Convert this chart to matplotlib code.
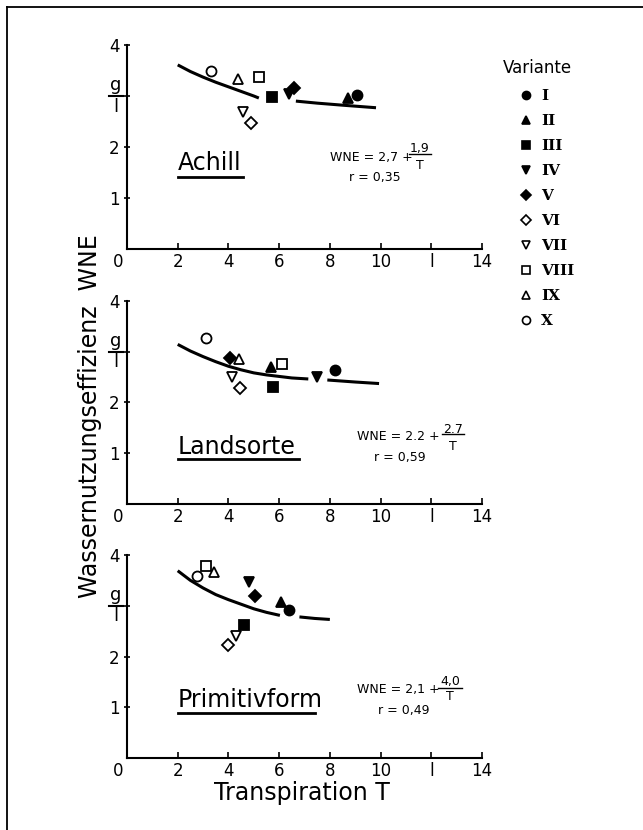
import matplotlib
matplotlib.use("Agg")
import matplotlib.pyplot as plt
from matplotlib.lines import Line2D
from matplotlib.transforms import ScaledTranslation

plt.rcParams['font.family'] = ['DejaVu Sans']

# ---------------- data ----------------
variants = ['I', 'II', 'III', 'IV', 'V', 'VI', 'VII', 'VIII', 'IX', 'X']
var_markers = ['o', '^', 's', 'v', 'D', 'D', 'v', 's', '^', 'o']
var_filled = [True, True, True, True, True, False, False, False, False, False]

panel_names = ['Achill', 'Landsorte', 'Primitivform']

# transpiration T and WNE per variant (order I..X)
achill_T = [9.06, 8.73, 5.71, 6.40, 6.59, 4.88, 4.56, 5.19, 4.39, 3.30]
achill_W = [3.02, 2.97, 2.99, 3.04, 3.16, 2.48, 2.69, 3.37, 3.33, 3.49]
land_T = [8.20, 5.68, 5.77, 7.48, 4.06, 4.46, 4.15, 6.11, 4.42, 3.10]
land_W = [2.64, 2.70, 2.30, 2.49, 2.88, 2.28, 2.49, 2.75, 2.86, 3.27]
prim_T = [6.40, 6.07, 4.61, 4.80, 5.06, 3.98, 4.29, 3.12, 3.44, 2.75]
prim_W = [2.91, 3.08, 2.62, 3.46, 3.19, 2.22, 2.41, 3.79, 3.66, 3.59]

# fitted curves, each drawn in two pieces
achill_curve1_T = [2.0, 2.5, 3.0, 3.5, 4.0, 4.5, 5.0, 5.2]
achill_curve1_W = [3.61, 3.48, 3.37, 3.27, 3.18, 3.09, 3.00, 2.96]
achill_curve2_T = [6.66, 7.5, 8.5, 9.82]
achill_curve2_W = [2.90, 2.86, 2.82, 2.77]
land_curve1_T = [2.0, 2.5, 3.0, 3.5, 4.0, 4.5, 5.0, 5.5, 6.0, 6.5, 7.15]
land_curve1_W = [3.14, 3.01, 2.90, 2.80, 2.71, 2.64, 2.58, 2.54, 2.51, 2.48, 2.46]
land_curve2_T = [7.9, 9.0, 9.94]
land_curve2_W = [2.44, 2.40, 2.37]
prim_curve1_T = [2.0, 2.5, 3.0, 3.5, 4.0, 4.5, 5.0, 5.5, 6.03]
prim_curve1_W = [3.69, 3.50, 3.35, 3.22, 3.12, 3.03, 2.94, 2.87, 2.81]
prim_curve2_T = [6.80, 7.4, 8.0]
prim_curve2_W = [2.78, 2.75, 2.73]

eq_const = ['2,7', '2.2', '2,1']
eq_num = ['1,9', '2.7', '4,0']
r_values = ['0,35', '0,59', '0,49']

xtick_values = [0, 2, 4, 6, 8, 10, 12, 14]
xtick_labels = ['0', '2', '4', '6', '8', '10', 'l', '14']
ytick_values = [1, 2, 3, 4]
ytick_labels = ['1', '2', '', '4']

panel_T = [achill_T, land_T, prim_T]
panel_W = [achill_W, land_W, prim_W]
panel_curves = [
    [(achill_curve1_T, achill_curve1_W), (achill_curve2_T, achill_curve2_W)],
    [(land_curve1_T, land_curve1_W), (land_curve2_T, land_curve2_W)],
    [(prim_curve1_T, prim_curve1_W), (prim_curve2_T, prim_curve2_W)],
]

# ---------------- layout ----------------
W_PX, H_PX = 643, 830
fig = plt.figure(figsize=(W_PX / 100, H_PX / 100), dpi=100)

ax_left_px, ax_right_px = 127, 482
panel_px = [(45, 249), (300.7, 504), (555, 758)]  # (top y, bottom y) in pixels

# text positions per panel (data coords)
name_pos = [(2.0, 1.69), (2.0, 1.12), (2.0, 1.14)]
name_ul = [(2.0, 4.57, 1.41), (2.0, 6.78, 0.89), (2.0, 7.41, 0.89)]
eq_pos = [(8.0, 1.80), (9.07, 1.32), (9.07, 1.34)]
frac_pos = [(11.55, 1.98, 11.12, 11.98, 1.86, 1.63),
            (12.86, 1.46, 12.42, 13.30, 1.38, 1.14),
            (12.74, 1.50, 12.27, 13.20, 1.38, 1.22)]
r_pos = [(9.78, 1.41), (10.77, 0.91), (10.92, 0.93)]

for p in range(3):
    top, bot = panel_px[p]
    ax = fig.add_axes([ax_left_px / W_PX, 1 - bot / H_PX,
                       (ax_right_px - ax_left_px) / W_PX, (bot - top) / H_PX])
    ax.set_xlim(0, 14)
    ax.set_ylim(0, 4)
    for s in ['top', 'right']:
        ax.spines[s].set_visible(False)
    for s in ['left', 'bottom']:
        ax.spines[s].set_linewidth(1.5)
    ax.set_xticks(xtick_values)
    ax.set_xticklabels(xtick_labels, fontsize=12)
    ax.set_yticks(ytick_values)
    ax.set_yticklabels(ytick_labels, fontsize=12)
    ax.tick_params(axis='x', direction='in', length=4, width=1.2, pad=3)
    ax.tick_params(axis='y', direction='inout', length=5, width=1.2, pad=3)
    lab0 = ax.get_xticklabels()[0]
    lab0.set_transform(lab0.get_transform() + ScaledTranslation(-0.09, 0, fig.dpi_scale_trans))
    ax.patch.set_alpha(0)

    # g / l unit at y = 3
    ax.plot([-0.71, -0.16], [3, 3], color='black', lw=1.5, clip_on=False)
    ax.text(-0.43, 3.03, 'g', ha='center', va='bottom', fontsize=13, clip_on=False)
    ax.text(-0.43, 2.97, 'l', ha='center', va='top', fontsize=13, clip_on=False)

    # curves
    for cT, cW in panel_curves[p]:
        ax.plot(cT, cW, color='black', lw=2.2, solid_capstyle='butt', zorder=2)

    # points
    for i in range(10):
        m = var_markers[i]
        ms = 6.6 if m == 'D' else 7.2
        ax.plot(panel_T[p][i], panel_W[p][i], marker=m, ls='none', ms=ms,
                mfc='black' if var_filled[i] else 'white', mec='black',
                mew=1.3, clip_on=False, zorder=3)

    # panel name, underlined
    nx, ny = name_pos[p]
    ax.text(nx, ny, panel_names[p], fontsize=17, ha='left', va='center')
    ux0, ux1, uy = name_ul[p]
    ax.plot([ux0, ux1], [uy, uy], color='black', lw=2.0)

    # equation
    ex, ey = eq_pos[p]
    ax.text(ex, ey, 'WNE = ' + eq_const[p] + ' +', fontsize=9, ha='left', va='center')
    fx, fy, lx0, lx1, ly, ty = frac_pos[p]
    ax.text(fx, fy, eq_num[p], fontsize=9, ha='center', va='center')
    ax.plot([lx0, lx1], [ly, ly], color='black', lw=1.0)
    ax.text(fx, ty, 'T', fontsize=9, ha='center', va='center')
    rx, ry = r_pos[p]
    ax.text(rx, ry, 'r = ' + r_values[p], fontsize=9, ha='center', va='center')

# axis labels
fig.text(302 / W_PX, 1 - 793 / H_PX, 'Transpiration T', fontsize=17,
         ha='center', va='center')
fig.text(90 / W_PX, 1 - 416 / H_PX, 'Wassernutzungseffizienz  WNE', fontsize=17,
         ha='center', va='center', rotation=90)

# legend
handles = [Line2D([], [], marker=var_markers[i], ls='none',
                  ms=(5.2 if var_markers[i] == 'D' else 5.8),
                  mfc='black' if var_filled[i] else 'white', mec='black', mew=1.2)
           for i in range(10)]
fig.text(537 / W_PX, 1 - 68 / H_PX, 'Variante', fontsize=12, ha='center', va='center')
fig.legend(handles, variants, loc='upper left',
           bbox_to_anchor=(518 / W_PX, 1 - 89 / H_PX),
           frameon=False, handlelength=1.0, handletextpad=0.5,
           labelspacing=0.72, borderpad=0, borderaxespad=0,
           prop={'family': 'DejaVu Serif', 'weight': 'bold', 'size': 11})

# page frame (left and top border)
fig.add_artist(Line2D([7 / W_PX, 7 / W_PX], [0, 1 - 7 / H_PX],
                      transform=fig.transFigure, color='black', lw=1.3))
fig.add_artist(Line2D([7 / W_PX, 1], [1 - 7 / H_PX, 1 - 7 / H_PX],
                      transform=fig.transFigure, color='black', lw=1.3))

fig.savefig('out.png', dpi=100)
